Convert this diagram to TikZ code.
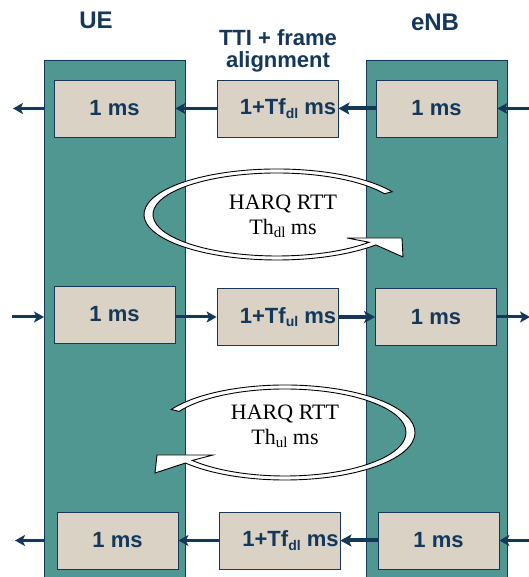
\documentclass[tikz,border=0pt]{standalone}
\usepackage{fontspec}
\setmainfont{Liberation Sans}
\newfontfamily\serifrm{Liberation Serif}
\usetikzlibrary{arrows.meta,calc}
\definecolor{navy}{RGB}{20,55,90}
\definecolor{tealcol}{RGB}{80,150,145}
\definecolor{beige}{RGB}{217,210,197}
\newcommand{\sbs}[1]{\raisebox{-3.5pt}{\fontsize{14}{14}\selectfont #1}}
\newcommand{\sbr}[1]{\raisebox{-3pt}{\fontsize{15}{15}\selectfont #1}}
\begin{document}
\begin{tikzpicture}[x=1pt,y=1pt,
  col/.style={draw=navy,line width=0.8pt,fill=tealcol,minimum width=141pt,minimum height=517pt,inner sep=0pt,anchor=south west},
  tbox/.style={draw=navy,line width=0.8pt,fill=beige,minimum width=121pt,minimum height=57pt,inner sep=0pt,text=navy,font=\fontsize{22}{24}\bfseries\selectfont},
  arr/.style={draw=navy,line width=3pt,-{Stealth[length=10pt,width=11pt,inset=2.5pt]}},
  tarr/.style={draw=navy,line width=4pt,-{Stealth[length=11pt,width=12pt,inset=2.5pt]}},
  ring/.style={draw=black,line width=0.9pt,fill=white},
  rtext/.style={align=center,inner sep=0pt,font=\fontsize{22}{25}\serifrm\selectfont},
  title/.style={text=navy,inner sep=0pt,font=\fontsize{24}{24}\bfseries\selectfont}
  ]
\useasboundingbox (0,0) rectangle (528,577);
\fill[white] (0,0) rectangle (528,577);

% columns
\node[col] (uec) at (44,-1) {};
\node[col] (enbc) at (366,-1) {};

% titles
\node[title] (tue) at (96,556.5) {UE};
\node[title] (tenb) at (435,555) {eNB};
\node[title,align=center,font=\fontsize{22}{22}\bfseries\selectfont] (tti) at (278,525.7) {TTI + frame\\alignment};

% row 1 (downlink)
\node[tbox] (ue1) at (114.5,468.5) {1 ms\hspace{11pt}};
\node[tbox] (mid1) at (277.5,468.5) {\hspace*{21pt}1+Tf\sbs{dl} ms};
\node[tbox] (enb1) at (436.5,468.5) {1 ms\hspace{13pt}};
\coordinate (o1) at (13,468.5);
\coordinate (i1) at (530,468.5);
\draw[arr] (uec.west |- ue1.west) -- (o1);
\draw[arr] (mid1.west) -- (ue1.east);
\draw[tarr] (enb1.west) -- (mid1.east);
\draw[arr] (i1) -- (enb1.east);

% row 2 (uplink)
\node[tbox] (ue2) at (114.5,262.5) {1 ms\hspace{11pt}};
\node[tbox] (mid2) at (277.5,260) {\hspace*{21pt}1+Tf\sbs{ul} ms};
\node[tbox] (enb2) at (436,260) {1 ms\hspace{11pt}};
\coordinate (i2) at (12,260);
\coordinate (o2) at (530,260);
\draw[arr] (i2) -- (uec.west |- i2);
\draw[arr] (ue2.east |- mid2.west) -- (mid2.west);
\draw[tarr] (mid2.east) -- (enb2.west);
\draw[arr] (enb2.east) -- (o2);

% row 3 (downlink)
\node[tbox] (ue3) at (117.5,36.5) {1 ms\hspace{10pt}};
\node[tbox] (mid3) at (279.5,36.5) {\hspace*{22pt}1+Tf\sbs{dl} ms};
\node[tbox] (enb3) at (438.5,36.5) {1 ms\hspace{9pt}};
\coordinate (o3) at (15,36.5);
\coordinate (i3) at (530,36.5);
\draw[arr] (uec.west |- ue3.west) -- (o3);
\draw[arr] (mid3.west) -- (ue3.east);
\draw[tarr] (enb3.west) -- (mid3.east);
\draw[arr] (i3) -- (enb3.east);

% HARQ ring 1 (DL)
\coordinate (c1) at (277,362.5);
\draw[ring] ($(c1)+(30:133pt and 45.5pt)$)
  arc[start angle=30,end angle=318,x radius=133pt,y radius=45.5pt]
  -- (403,320) -- (402,339) -- (347,339)
  -- ($(c1)+(318:124pt and 41.5pt)$)
  arc[start angle=318,end angle=30,x radius=124pt,y radius=41.5pt] -- cycle;
\node[rtext] (h1) at (283,360.3) {HARQ RTT\\Th\sbr{dl} ms};

% HARQ ring 2 (UL)
\coordinate (c2) at (285,144.5);
\draw[ring] ($(c2)+(151:130pt and 47.5pt)$)
  arc[start angle=151,end angle=-140,x radius=130pt,y radius=47.5pt]
  -- (155,104) -- (157,122) -- (213,122)
  -- ($(c2)+(-140:121pt and 43.5pt)$)
  arc[start angle=-140,end angle=151,x radius=121pt,y radius=43.5pt] -- cycle;
\node[rtext] (h2) at (285,150.3) {HARQ RTT\\Th\sbr{ul} ms};
\end{tikzpicture}
\end{document}
